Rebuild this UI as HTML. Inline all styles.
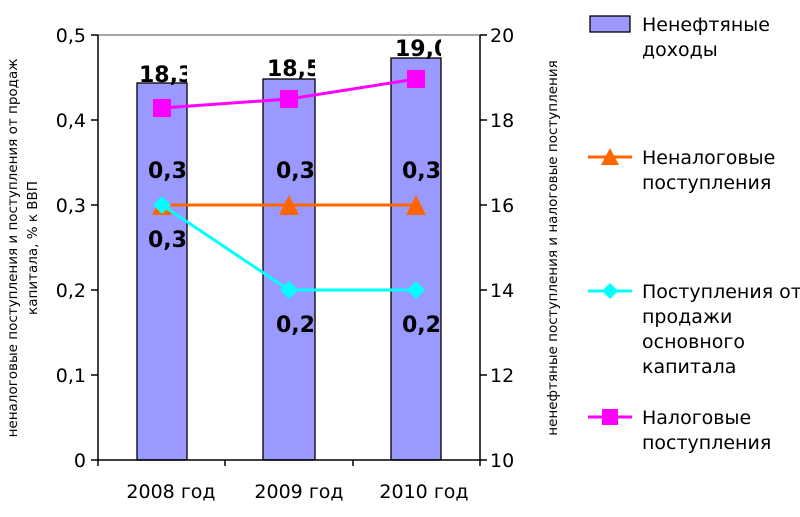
<!DOCTYPE html>
<html><head><meta charset="utf-8"><style>
body{margin:0;background:#fff;}
svg{display:block;font-family:"DejaVu Sans","Liberation Sans",sans-serif;}
</style></head><body>
<svg width="800" height="517" viewBox="0 0 800 517">
<rect x="0" y="0" width="800" height="517" fill="#fff"/>
<line x1="98" y1="35" x2="480" y2="35" stroke="#888" stroke-width="1.5"/>
<g fill="#9999ff" stroke="#000" stroke-width="1.3">
<rect x="137" y="83" width="50" height="377"/>
<rect x="263" y="79" width="52" height="381"/>
<rect x="391" y="58" width="50" height="402"/>
</g>
<g stroke="#000" stroke-width="1.5">
<line x1="98" y1="35" x2="98" y2="460"/>
<line x1="480" y1="35" x2="480" y2="460"/>
<line x1="98" y1="460" x2="480" y2="460"/>
<line x1="91" y1="35" x2="98" y2="35"/><line x1="91" y1="120" x2="98" y2="120"/><line x1="91" y1="205" x2="98" y2="205"/><line x1="91" y1="290" x2="98" y2="290"/><line x1="91" y1="375" x2="98" y2="375"/><line x1="91" y1="460" x2="98" y2="460"/>
<line x1="480" y1="35" x2="487" y2="35"/><line x1="480" y1="120" x2="487" y2="120"/><line x1="480" y1="205" x2="487" y2="205"/><line x1="480" y1="290" x2="487" y2="290"/><line x1="480" y1="375" x2="487" y2="375"/><line x1="480" y1="460" x2="487" y2="460"/>
<line x1="98" y1="460" x2="98" y2="466"/><line x1="225" y1="460" x2="225" y2="466"/><line x1="353" y1="460" x2="353" y2="466"/><line x1="480" y1="460" x2="480" y2="466"/>
</g>
<g font-size="19" text-anchor="end" fill="#000">
<text x="86" y="42">0,5</text><text x="86" y="127">0,4</text><text x="86" y="212">0,3</text><text x="86" y="297">0,2</text><text x="86" y="382">0,1</text><text x="86" y="467">0</text>
</g>
<g font-size="19" text-anchor="start" fill="#000">
<text x="490" y="42">20</text><text x="490" y="127">18</text><text x="490" y="212">16</text><text x="490" y="297">14</text><text x="490" y="382">12</text><text x="490" y="467">10</text>
</g>
<g font-size="19" text-anchor="middle">
<text x="171" y="498">2008 год</text><text x="299" y="498">2009 год</text><text x="424" y="498">2010 год</text>
</g>
<text transform="translate(17,248) rotate(-90)" font-size="13.5" text-anchor="middle">неналоговые поступления и поступления от продаж</text>
<text transform="translate(37,248) rotate(-90)" font-size="13.5" text-anchor="middle">капитала, % к ВВП</text>
<text transform="translate(557,248) rotate(-90)" font-size="13.5" text-anchor="middle">ненефтяные поступления и налоговые поступления</text>
<polyline points="162,205 289,205 416,205" fill="none" stroke="#ff6600" stroke-width="3"/>
<g fill="#ff6600"><polygon points="162,195 152,215 172,215"/><polygon points="289,195 279,215 299,215"/><polygon points="416,195 406,215 426,215"/></g>
<polyline points="162,205 289,290 416,290" fill="none" stroke="#00ffff" stroke-width="3"/>
<g fill="#00ffff"><polygon points="162,196 171,205 162,214 153,205"/><polygon points="289,281 298,290 289,299 280,290"/><polygon points="416,281 425,290 416,299 407,290"/></g>
<polyline points="162,108 289,99 416,79" fill="none" stroke="#ff00ff" stroke-width="3"/>
<g fill="#ff00ff"><rect x="153" y="99" width="18" height="18"/><rect x="280" y="90" width="18" height="18"/><rect x="407" y="70" width="18" height="18"/></g>
<g font-size="22" font-weight="bold">
<svg x="137" y="50" width="50" height="40" overflow="hidden"><text x="2" y="32">18,3</text></svg>
<svg x="263" y="45" width="52" height="40" overflow="hidden"><text x="4" y="31">18,5</text></svg>
<svg x="391" y="25" width="50" height="40" overflow="hidden"><text x="4" y="31">19,0</text></svg>
<svg x="137" y="150" width="50" height="40" overflow="hidden"><text x="11" y="28">0,3</text></svg>
<svg x="263" y="150" width="52" height="40" overflow="hidden"><text x="13" y="28">0,3</text></svg>
<svg x="391" y="150" width="50" height="40" overflow="hidden"><text x="11" y="28">0,3</text></svg>
<svg x="137" y="219" width="50" height="40" overflow="hidden"><text x="11" y="28">0,3</text></svg>
<svg x="263" y="304" width="52" height="40" overflow="hidden"><text x="13" y="28">0,2</text></svg>
<svg x="391" y="304" width="50" height="40" overflow="hidden"><text x="11" y="28">0,2</text></svg>
</g>
<rect x="590" y="16" width="40" height="16" fill="#9999ff" stroke="#000" stroke-width="1.3"/>
<g font-size="19" fill="#000">
<text x="642" y="31">Ненефтяные</text><text x="642" y="56">доходы</text>
<text x="642" y="164">Неналоговые</text><text x="642" y="189">поступления</text>
<text x="642" y="298">Поступления от</text><text x="642" y="323">продажи</text><text x="642" y="348">основного</text><text x="642" y="373">капитала</text>
<text x="642" y="424">Налоговые</text><text x="642" y="449">поступления</text>
</g>
<line x1="588" y1="157" x2="632" y2="157" stroke="#ff6600" stroke-width="3"/><polygon points="610,148 601,165 619,165" fill="#ff6600"/>
<line x1="588" y1="291" x2="632" y2="291" stroke="#00ffff" stroke-width="3"/><polygon points="610,283 618,291 610,299 602,291" fill="#00ffff"/>
<line x1="588" y1="417" x2="632" y2="417" stroke="#ff00ff" stroke-width="3"/><rect x="602" y="409" width="16" height="16" fill="#ff00ff"/>
</svg>
</body></html>
